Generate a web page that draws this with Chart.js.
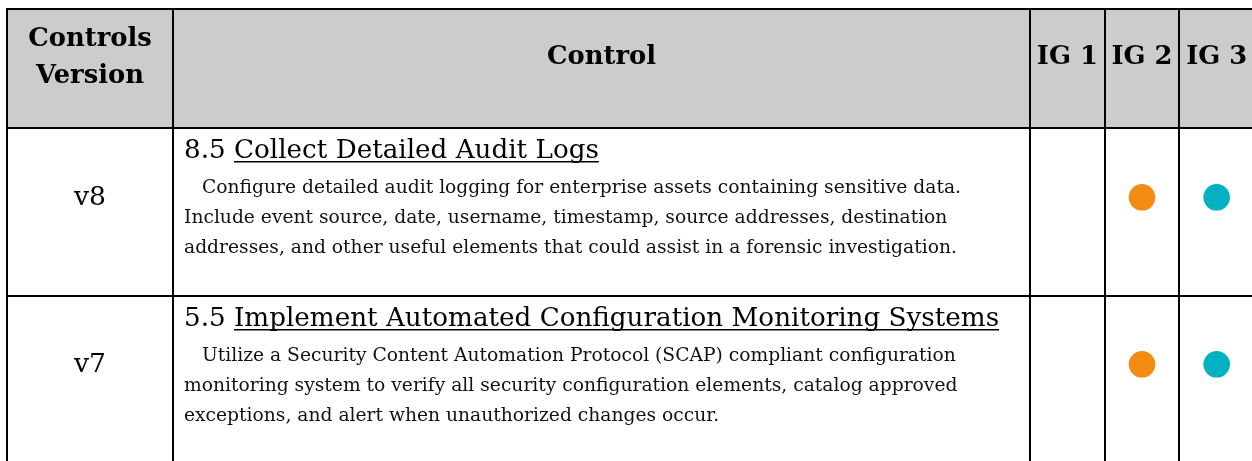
<!DOCTYPE html>
<html><head><meta charset="utf-8">
<script src="https://cdn.jsdelivr.net/npm/chart.js@4/dist/chart.umd.min.js"></script>
<style>html,body{margin:0;padding:0;background:#fff;overflow:hidden}
#wrap{width:1252px;height:461px;overflow:hidden;position:relative}
canvas{display:block}</style></head>
<body><div id="wrap"><canvas id="c" width="1262" height="472"></canvas></div>
<script>
// ---- data ----
const versions = ['v8', 'v7'];
const controlIds = ['8.5', '5.5'];
const controlTitles = ['Collect Detailed Audit Logs', 'Implement Automated Configuration Monitoring Systems'];
const controlDescriptions = [
  ['Configure detailed audit logging for enterprise assets containing sensitive data.',
   'Include event source, date, username, timestamp, source addresses, destination',
   'addresses, and other useful elements that could assist in a forensic investigation.'],
  ['Utilize a Security Content Automation Protocol (SCAP) compliant configuration',
   'monitoring system to verify all security configuration elements, catalog approved',
   'exceptions, and alert when unauthorized changes occur.']
];
const headerLabels = ['Controls', 'Version', 'Control'];
const igLabels = ['IG 1', 'IG 2', 'IG 3'];
const ig1 = [false, false];
const ig2 = [true, true];
const ig3 = [true, true];

// ---- style / layout ----
const igFlags = [ig1, ig2, ig3];
const igColors = ['#7f7f7f', '#F28C12', '#03B1C0'];
const W = 1262, H = 472;
const tableLeft = 7, tableRight = 1254;
const colEdges = [7, 173, 1030];
const rowEdges = [9, 128, 296, 463];
const FAM = '"DejaVu Serif", serif';

const ctx0 = document.getElementById('c').getContext('2d');
function fit(text, weight, target) {
  ctx0.font = weight + ' 100px ' + FAM;
  return 100 * target / ctx0.measureText(text).width;
}
const headSize = fit('Control', 'bold', 109);
const titleSize = fit('8.5 Collect Detailed Audit Logs', 'normal', 415);
const bodySize = fit('Include event source, date, username, timestamp, source addresses, destination', 'normal', 764);
const verSize = fit('v8', 'normal', 32);

const tablePlugin = {
  id: 'table',
  beforeDatasetsDraw(chart) {
    const ctx = chart.ctx, xs = chart.scales.x, ys = chart.scales.y;
    const band = xs.getPixelForValue(1) - xs.getPixelForValue(0);
    ctx.save();
    // header background
    ctx.fillStyle = '#cccccc';
    ctx.fillRect(tableLeft, rowEdges[0], tableRight - tableLeft, rowEdges[1] - rowEdges[0]);
    // header text
    ctx.fillStyle = '#000';
    ctx.textAlign = 'center';
    ctx.textBaseline = 'alphabetic';
    ctx.font = 'bold ' + headSize.toFixed(2) + 'px ' + FAM;
    const c1 = (colEdges[0] + colEdges[1]) / 2;
    ctx.fillText(headerLabels[0], c1, 46);
    ctx.fillText(headerLabels[1], c1, 83);
    ctx.fillText(headerLabels[2], (colEdges[1] + colEdges[2]) / 2, 64);
    igLabels.forEach((l, i) => ctx.fillText(l, xs.getPixelForValue(i), 64));
    // body rows
    versions.forEach((v, i) => {
      const top = rowEdges[i + 1];
      ctx.textAlign = 'center';
      ctx.textBaseline = 'middle';
      ctx.font = verSize.toFixed(2) + 'px ' + FAM;
      ctx.fillText(v, c1, ys.getPixelForValue(i) + 1);
      ctx.textAlign = 'left';
      ctx.textBaseline = 'alphabetic';
      const tx = colEdges[1] + 11;
      const tb = top + 30;
      ctx.font = titleSize.toFixed(2) + 'px ' + FAM;
      const pre = controlIds[i] + ' ';
      ctx.fillText(pre, tx, tb);
      const px = tx + ctx.measureText(pre).width;
      ctx.fillText(controlTitles[i], px, tb);
      const tw = ctx.measureText(controlTitles[i]).width;
      ctx.fillRect(px, tb + 3, tw, 1.5);
      ctx.fillStyle = '#111';
      ctx.font = bodySize.toFixed(2) + 'px ' + FAM;
      controlDescriptions[i].forEach((line, j) => {
        ctx.fillText(line, tx + (j === 0 ? 18 : 0), top + 65 + j * 30);
      });
      ctx.fillStyle = '#000';
    });
    // grid lines
    ctx.strokeStyle = '#000';
    ctx.lineWidth = 2;
    ctx.beginPath();
    rowEdges.forEach(y => { ctx.moveTo(tableLeft - 1, y); ctx.lineTo(tableRight + 1, y); });
    const vx = colEdges.concat(igLabels.map((l, i) => xs.getPixelForValue(i) + band / 2));
    vx.forEach(x => { const rx = Math.round(x); ctx.moveTo(rx, rowEdges[0]); ctx.lineTo(rx, rowEdges[rowEdges.length - 1]); });
    ctx.stroke();
    ctx.restore();
  }
};

const datasets = igLabels.map((lab, k) => ({
  label: lab,
  data: versions.map((v, i) => igFlags[k][i] ? { x: lab, y: v } : null).filter(Boolean),
  backgroundColor: igColors[k],
  borderWidth: 0,
  pointRadius: 13.3,
  pointHoverRadius: 13.3,
  clip: false
}));

new Chart(document.getElementById('c'), {
  type: 'scatter',
  data: { datasets },
  options: {
    responsive: false,
    animation: false,
    devicePixelRatio: 1,
    events: [],
    layout: { autoPadding: false, padding: { left: 1030, right: W - tableRight, top: 113.8, bottom: H - 447.8 } },
    plugins: { legend: { display: false }, tooltip: { enabled: false } },
    scales: {
      x: { type: 'category', labels: igLabels, offset: true, display: false },
      y: { type: 'category', labels: versions, offset: true, display: false }
    }
  },
  plugins: [tablePlugin]
});
</script>
</body></html>
